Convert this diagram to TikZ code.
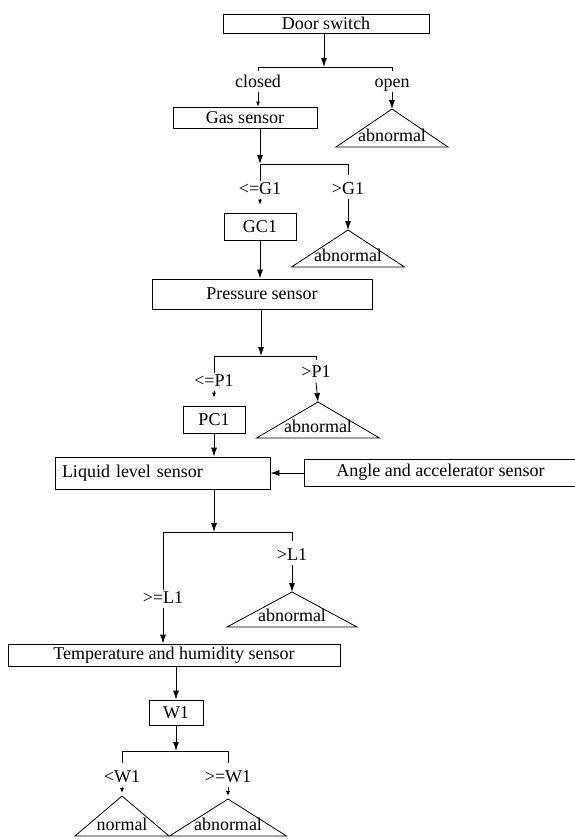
\documentclass[tikz,border=0pt]{standalone}
\usepackage{fontspec}
\setmainfont{Liberation Serif}
\usetikzlibrary{arrows.meta,calc}

\tikzset{
	every node/.style={font=\fontsize{18}{21}\selectfont},
	box/.style={draw, inner sep=0pt},
	lbl/.style={inner sep=1pt, text height=12pt, text depth=4pt},
	flow/.style={-{Latex[length=9pt,width=6pt]}},
	shortarrow/.style={-{Latex[length=5pt,width=4pt]}}
}
% name, apex x, apex y, half width, height, text
\newcommand\outcome[6]{
	\coordinate (#1) at (#2,#3);
	\draw (#1) -- ++(-#4,#5) -- ++({2*#4},0) -- cycle;
	\node[inner sep=0pt] (#1-txt) at (#2,{#3+#5-12}) {#6};
	}

\begin{document}
\begin{tikzpicture}[x=1pt, y=-1pt, line width=0.8pt]

			\useasboundingbox (0,0) rectangle (575,839);

			% sensors
			\node[box, minimum width=206pt, minimum height=19pt] (door) at (326,23.5) {Door switch};
			\node[box, minimum width=144pt, minimum height=21pt] (gas) at (245,117.5) {Gas sensor};
			\node[box, minimum width=72pt, minimum height=27pt] (gc1) at (260,226.5) {GC1};
			\node[box, minimum width=220pt, minimum height=30pt] (press) at (262,294) {Pressure sensor};
			\node[box, minimum width=62pt, minimum height=27pt] (pc1) at (214,419.5) {PC1};
			\node[box, text width=201pt, align=left, inner xsep=7pt, minimum height=32pt] (liquid) at (162.5,473) {Liquid level sensor};
			\node[box, minimum width=273pt, minimum height=27pt] (angle) at (440.5,472.5) {Angle and accelerator sensor};
			\node[box, minimum width=332pt, minimum height=22pt] (temp) at (174,655) {Temperature and humidity sensor};
			\node[box, minimum width=54pt, minimum height=25pt] (w1) at (176,712.5) {W1};

			% branch labels
			\node[lbl] (closed) at (258,83) {closed};
			\node[lbl] (open) at (392,83) {open};
			\node[lbl] (leG) at (260,190) {<=G1};
			\node[lbl] (gtG) at (348,190) {>G1};
			\node[lbl] (leP) at (214,382) {<=P1};
			\node[lbl] (gtP) at (316,373) {>P1};
			\node[lbl] (gtL) at (292,556) {>L1};
			\node[lbl] (geL) at (163,599) {>=L1};
			\node[lbl] (ltW) at (122,778) {<W1};
			\node[lbl] (geW) at (228,778) {>=W1};

			% results
			\outcome{abn1}{392}{109}{56}{38}{abnormal}
			\outcome{abn2}{348}{230}{56.5}{37}{abnormal}
			\outcome{abn3}{318}{402}{61.5}{36}{abnormal}
			\outcome{abn4}{292}{592}{65}{35}{abnormal}
			\outcome{normal}{122}{796}{47}{40}{normal}
			\outcome{abn5}{228}{799}{58.5}{37}{abnormal}

			\coordinate (br1) at (324,67);
			\coordinate (br2) at (260,164);
			\coordinate (br3) at (261,356);
			\coordinate (br4) at (214,532);
			\coordinate (br5) at (176,751);

			\draw[flow] (br1 |- door.south) -- (br1);
			\draw[shorten <=3pt, shorten >=3pt] (closed.north) -- (closed.north |- br1) -- (open.north |- br1) -- (open.north);
			\draw[shortarrow] (closed.south) -- (closed |- gas.north);
			\draw[flow] (open.south) -- (abn1);

			\draw[flow] (br2 |- gas.south) -- (br2);
			\draw[shorten >=6pt] (leG.north) -- (leG.north |- br2) -- (gtG.north |- br2) -- (gtG.north);
			\draw[shortarrow] (leG.south) -- ($(leG |- gc1.north)+(0,-8)$);
			\draw[flow] (gtG.south) -- (abn2);
			\draw[flow] (br2 |- gc1.south) -- (br2 |- press.north);

			\draw[flow] (br3 |- press.south) -- (br3);
			\draw[shorten >=4pt] (leP.north) -- (leP.north |- br3) -- (gtP.north |- br3) -- (gtP.north);
			\draw[shortarrow] (leP.south) -- ($(leP |- pc1.north)+(0,-8)$);
			\draw[flow] (gtP.south) -- (abn3);
			\draw[flow] (pc1.south) -- (pc1 |- liquid.north);

			\draw[flow] (angle.west |- liquid) -- (liquid.east);
			\draw[flow] (br4 |- liquid.south) -- (br4);
			\draw[shorten >=6pt] (geL.north) -- (geL.north |- br4) -- (gtL.north |- br4) -- (gtL.north);
			\draw[flow] (geL.south) -- (geL |- temp.north);
			\draw[flow] (gtL.south) -- (abn4);

			\draw[flow] (w1 |- temp.south) -- (w1.north);
			\draw[flow] (w1.south) -- (br5);
			\draw[shorten <=6pt, shorten >=6pt] (ltW.north) -- (ltW.north |- br5) -- (geW.north |- br5) -- (geW.north);
			\draw[shortarrow] (ltW.south) -- ($(normal)+(0,-3)$);
			\draw[shortarrow] (geW.south) -- ($(abn5)+(0,-3)$);

		\end{tikzpicture}
\end{document}
